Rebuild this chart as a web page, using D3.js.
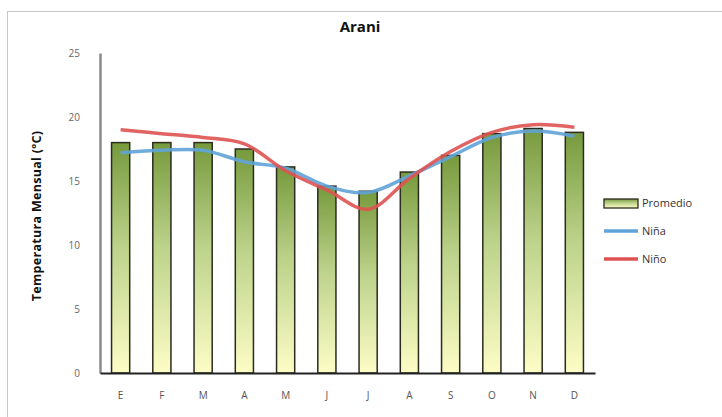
<!DOCTYPE html>
<html>
<head>
<meta charset="utf-8">
<script src="https://cdn.jsdelivr.net/npm/d3@7"></script>
<style>
  body { margin: 0; background: #fff; }
  text { font-family: "Open Sans", "DejaVu Sans", sans-serif; }
</style>
</head>
<body>
<div id="chart"></div>
<script>
// data
const months = ['E', 'F', 'M', 'A', 'M', 'J', 'J', 'A', 'S', 'O', 'N', 'D'];
const promedio = [18.0, 18.0, 18.0, 17.5, 16.1, 14.6, 14.2, 15.7, 17.0, 18.7, 19.1, 18.8];
const nina = [17.2, 17.4, 17.4, 16.5, 16.0, 14.6, 14.1, 15.4, 16.9, 18.4, 18.9, 18.5];
const nino = [19.0, 18.7, 18.4, 17.9, 15.8, 14.3, 12.8, 15.2, 17.3, 18.8, 19.4, 19.2];
const yTicks = [0, 5, 10, 15, 20, 25];

const width = 722, height = 417;
const margin = [53, 44, 100, 127]; // top, bottom, left, right

const svg = d3.select('#chart').append('svg')
    .attr('width', width)
    .attr('height', height);

// frame
svg.append('rect')
    .attr('x', 7.5).attr('y', 11.5)
    .attr('width', width + 10).attr('height', height + 10)
    .attr('fill', 'none')
    .attr('stroke', '#c8c8c8');

const defs = svg.append('defs');
const grad = defs.append('linearGradient')
    .attr('id', 'barGrad')
    .attr('x1', 0).attr('y1', 0).attr('x2', 0).attr('y2', 1);
grad.append('stop').attr('offset', '0%').attr('stop-color', '#779a3d');
grad.append('stop').attr('offset', '45%').attr('stop-color', '#bcd28a');
grad.append('stop').attr('offset', '100%').attr('stop-color', '#fdfdc6');

const chartW = width - margin[2] - margin[3];
const chartH = height - margin[0] - margin[1];

const x = d3.scaleBand(d3.range(months.length), [0, chartW]).paddingInner(0.56).paddingOuter(0.28);
const y = d3.scaleLinear([0, 25], [chartH, 0]);

const chart = svg.append('g')
    .attr('transform', `translate(${margin[2]},${margin[0]})`);

// y axis
const yAxis = chart.append('g')
    .call(d3.axisLeft(y).tickValues(yTicks).tickSize(0).tickPadding(20));
yAxis.select('.domain').attr('stroke', '#8a8a8a').attr('stroke-width', 2.5);
yAxis.selectAll('text').attr('fill', '#666').style('font-size', '10px');

// bars
chart.selectAll('rect.bar')
    .data(promedio)
    .join('rect')
    .classed('bar', true)
    .attr('x', (d, i) => x(i))
    .attr('y', d => y(d))
    .attr('width', x.bandwidth())
    .attr('height', d => chartH - y(d))
    .attr('fill', 'url(#barGrad)')
    .attr('stroke', '#2b2b20')
    .attr('stroke-width', 1.5);

// x axis
const xAxis = chart.append('g')
    .attr('transform', `translate(0,${chartH})`)
    .call(d3.axisBottom(x).tickFormat(i => months[i]).tickSize(0).tickPadding(19));
xAxis.select('.domain').attr('stroke', '#222').attr('stroke-width', 2);
xAxis.selectAll('text').attr('fill', '#555').style('font-size', '10px');

// lines
const line = d3.line()
    .x((d, i) => x(i) + x.bandwidth() / 2)
    .y(d => y(d))
    .curve(d3.curveCatmullRom.alpha(0.5));

chart.append('path')
    .datum(nina)
    .attr('d', line)
    .attr('fill', 'none')
    .attr('stroke', '#5fa3d8')
    .attr('stroke-width', 3.5)
    .attr('stroke-opacity', 0.9);

chart.append('path')
    .datum(nino)
    .attr('d', line)
    .attr('fill', 'none')
    .attr('stroke', '#de5352')
    .attr('stroke-width', 3.5)
    .attr('stroke-opacity', 0.9);

// title
svg.append('text')
    .attr('x', 360).attr('y', 32)
    .attr('text-anchor', 'middle')
    .style('font-size', '15px')
    .style('font-weight', 'bold')
    .attr('fill', '#111')
    .text('Arani');

// y label
svg.append('text')
    .attr('transform', `translate(41,${margin[0] + chartH / 2 + 3}) rotate(-90)`)
    .attr('text-anchor', 'middle')
    .style('font-size', '12.5px')
    .style('font-weight', 'bold')
    .style('letter-spacing', '0.3px')
    .attr('fill', '#111')
    .text('Temperatura  Mensual (ºC)');

// legend
const legend = svg.append('g').attr('transform', 'translate(604,203)');
legend.append('rect')
    .attr('x', 0).attr('y', -4)
    .attr('width', 34).attr('height', 9)
    .attr('fill', 'url(#barGrad)')
    .attr('stroke', '#2b2b20')
    .attr('stroke-width', 1.3);
legend.append('text').attr('x', 38).attr('y', 4).text('Promedio');

legend.append('line')
    .attr('x1', 0).attr('x2', 34).attr('y1', 28).attr('y2', 28)
    .attr('stroke', '#5fa3d8').attr('stroke-width', 3.5);
legend.append('text').attr('x', 38).attr('y', 32).text('Niña');

legend.append('line')
    .attr('x1', 0).attr('x2', 34).attr('y1', 56).attr('y2', 56)
    .attr('stroke', '#de5352').attr('stroke-width', 3.5);
legend.append('text').attr('x', 38).attr('y', 60).text('Niño');

legend.selectAll('text')
    .style('font-size', '11px')
    .attr('fill', '#333');
</script>
</body>
</html>
